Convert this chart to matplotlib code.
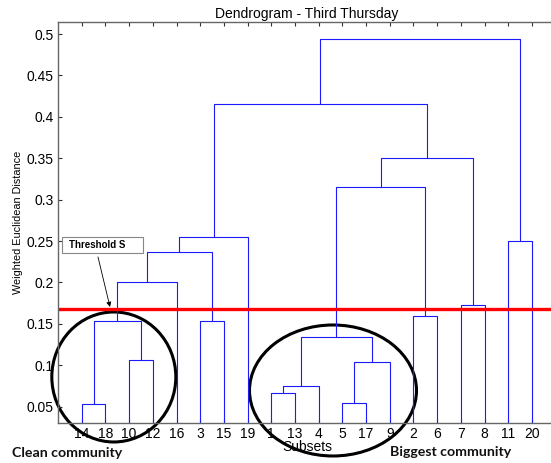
import matplotlib.pyplot as plt
from matplotlib.patches import Ellipse, Rectangle

# leaf order along the x axis
leaf_order = [14, 18, 10, 12, 16, 3, 15, 19, 1, 13, 4, 5, 17, 9, 2, 6, 7, 8, 11, 20]

# linkage: leaves are 1..20, merge k creates node 21+k
link_a = [14, 10, 21, 23, 3, 24, 26, 1, 28, 5, 30, 29, 2, 32, 7, 34, 27, 11, 37]
link_b = [18, 12, 22, 16, 15, 25, 19, 13, 4, 17, 9, 31, 6, 33, 8, 35, 36, 20, 38]
link_h = [0.053, 0.106, 0.154, 0.200, 0.153, 0.237, 0.255, 0.067, 0.075,
          0.055, 0.104, 0.134, 0.160, 0.315, 0.173, 0.350, 0.415, 0.250, 0.494]

threshold = 0.168
yticks = [0.05, 0.1, 0.15, 0.2, 0.25, 0.3, 0.35, 0.4, 0.45, 0.5]
ytick_labels = ["0.05", "0.1", "0.15", "0.2", "0.25", "0.3", "0.35", "0.4", "0.45", "0.5"]

plt.rcParams["font.family"] = ["Liberation Sans", "DejaVu Sans"]

W, H = 551, 463
fig = plt.figure(figsize=(5.51, 4.63), dpi=100)
ax = fig.add_axes([0.1053, 0.0864, 0.9032, 0.8661])

# node positions
pos = {leaf: i + 1 for i, leaf in enumerate(leaf_order)}
height = {leaf: 0.0 for leaf in leaf_order}
for k, (a, b, h) in enumerate(zip(link_a, link_b, link_h)):
    xa, xb = pos[a], pos[b]
    ax.plot([xa, xa, xb, xb], [height[a], h, h, height[b]], color="#1a1aff", lw=0.8)
    pos[21 + k] = (xa + xb) / 2
    height[21 + k] = h

ax.axhline(threshold, color="#ff0000", lw=2.4)

ax.set_xlim(0, 21)
ax.set_ylim(0.0303, 0.5146)
ax.set_xticks(range(1, 21))
ax.set_xticklabels([str(v) for v in leaf_order])
ax.set_yticks(yticks)
ax.set_yticklabels(ytick_labels)
ax.tick_params(direction="in", top=True, right=True, labelsize=10, length=3,
               color="#333333", pad=3)
for s in ax.spines.values():
    s.set_color("#666666")
    s.set_linewidth(1.0)

ax.set_title("Dendrogram - Third Thursday", fontsize=10, pad=3)
ax.set_xlabel("Subsets", fontsize=10, labelpad=-1)
ax.set_ylabel("Weighted Euclidean Distance", fontsize=7.8, labelpad=3)

# ellipses around the communities (pixel -> data)
def to_data(px, py):
    return (px - 58) / 23.7, 0.05 + (406.7 - py) / 828.0

for cx, cy, w, hgt in [(113.8, 377, 124, 130), (333, 390.5, 167, 131)]:
    x, y = to_data(cx, cy)
    e = Ellipse((x, y), w / 23.7, hgt / 828.0, fill=False, ec="black", lw=2.2,
                clip_on=False)
    ax.add_patch(e)

# threshold annotation box
fig.add_artist(Rectangle((62 / W, 1 - 253 / H), 81 / W, 16 / H, transform=fig.transFigure,
                         fc="white", ec="#888888", lw=0.8))
fig.text(69 / W, 1 - 245 / H, "Threshold S", fontsize=7, fontweight="bold", va="center")
ax.annotate("", xy=(110 / W, 1 - 307 / H), xytext=(98 / W, 1 - 257 / H),
            xycoords="figure fraction", textcoords="figure fraction",
            arrowprops=dict(arrowstyle="-|>", color="black", lw=0.6,
                            mutation_scale=7, shrinkA=0, shrinkB=0))

fig.text(12 / W, 1 - 453 / H, "Clean community", fontsize=10.2, fontweight="bold",
         family=["Lato", "DejaVu Sans"], va="center", color="#111111")
fig.text(390 / W, 1 - 452.5 / H, "Biggest community", fontsize=10.2, fontweight="bold",
         family=["Lato", "DejaVu Sans"], va="center", color="#111111")

fig.savefig("out.png", dpi=100)
